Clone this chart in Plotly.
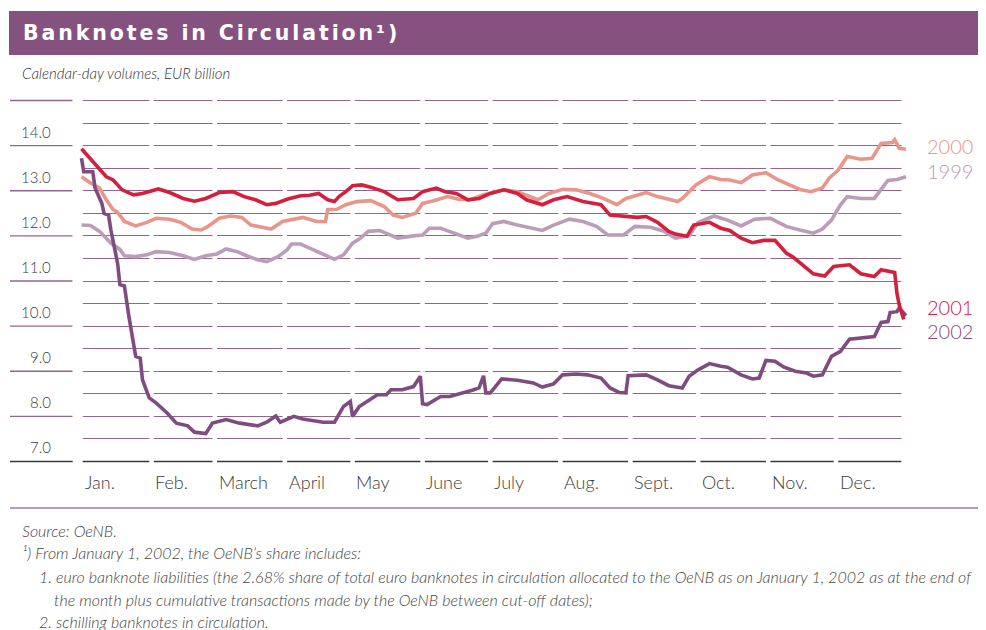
import plotly.graph_objects as go

# day-of-year readings (0 = 1 January), EUR billion
days_1999 = [0, 4, 8, 13, 17, 19, 24, 29, 33, 39, 45, 50, 55, 60, 64, 69, 73, 78, 82, 87, 91, 93, 97, 101, 107,
             112, 116, 120, 123, 127, 132, 140, 147, 151, 154, 159, 165, 171, 175, 179, 182, 187, 193, 199, 204,
             209, 216, 222, 228, 233, 240, 245, 252, 258, 263, 269, 273, 280, 286, 292, 298, 305, 312, 318, 324,
             328, 332, 336, 339, 345, 351, 357, 361, 365]
vals_1999 = [12.24, 12.23, 12.10, 11.84, 11.70, 11.56, 11.54, 11.58, 11.65, 11.63, 11.56, 11.48, 11.56, 11.60,
             11.71, 11.65, 11.56, 11.47, 11.43, 11.54, 11.69, 11.82, 11.82, 11.73, 11.58, 11.48, 11.58, 11.84,
             11.93, 12.10, 12.12, 11.95, 12.00, 12.02, 12.17, 12.17, 12.06, 11.95, 11.99, 12.06, 12.27, 12.32,
             12.24, 12.17, 12.12, 12.24, 12.37, 12.32, 12.21, 12.02, 12.02, 12.21, 12.19, 12.10, 11.95, 12.00,
             12.30, 12.44, 12.35, 12.22, 12.37, 12.39, 12.21, 12.13, 12.06, 12.15, 12.35, 12.69, 12.87, 12.83,
             12.83, 13.23, 13.25, 13.31]

days_2000 = [0, 4, 8, 11, 14, 16, 19, 24, 29, 33, 39, 44, 49, 53, 56, 61, 66, 71, 75, 81, 84, 89, 94, 98, 104,
             108, 109, 113, 117, 122, 128, 134, 138, 142, 148, 151, 156, 162, 167, 172, 178, 187, 193, 199, 202,
             207, 213, 219, 225, 231, 237, 241, 247, 250, 255, 260, 264, 266, 272, 278, 283, 287, 292, 297, 303,
             308, 314, 318, 323, 328, 331, 335, 339, 345, 350, 354, 359, 360, 362, 365]
vals_2000 = [13.31, 13.17, 13.06, 12.80, 12.58, 12.52, 12.32, 12.22, 12.30, 12.39, 12.37, 12.30, 12.15, 12.13,
             12.21, 12.39, 12.44, 12.41, 12.24, 12.17, 12.15, 12.32, 12.37, 12.41, 12.32, 12.32, 12.58, 12.59,
             12.69, 12.76, 12.78, 12.65, 12.46, 12.41, 12.50, 12.72, 12.78, 12.87, 12.81, 12.80, 12.91, 13.02,
             12.98, 12.87, 12.80, 12.94, 13.03, 13.02, 12.94, 12.83, 12.69, 12.83, 12.93, 12.96, 12.87, 12.80,
             12.76, 12.83, 13.13, 13.31, 13.25, 13.24, 13.18, 13.35, 13.40, 13.25, 13.11, 13.03, 12.98, 13.06,
             13.28, 13.46, 13.76, 13.70, 13.72, 14.05, 14.07, 14.13, 13.94, 13.92]

days_2001 = [0, 5, 11, 14, 18, 23, 27, 34, 39, 45, 50, 55, 61, 67, 72, 77, 82, 86, 91, 97, 101, 105, 109, 112,
             114, 117, 120, 124, 128, 134, 140, 147, 151, 157, 161, 166, 171, 176, 181, 187, 193, 197, 204, 209,
             215, 222, 230, 234, 240, 246, 250, 255, 260, 263, 268, 271, 278, 283, 287, 292, 297, 302, 307, 312,
             315, 320, 324, 329, 333, 340, 345, 351, 354, 360, 361, 362, 364]
vals_2001 = [13.93, 13.65, 13.31, 13.24, 13.02, 12.91, 12.94, 13.04, 12.96, 12.83, 12.77, 12.83, 12.96, 12.98,
             12.87, 12.80, 12.69, 12.72, 12.81, 12.89, 12.90, 12.94, 12.80, 12.76, 12.87, 12.98, 13.11, 13.13,
             13.08, 12.98, 12.80, 12.83, 12.98, 13.06, 12.98, 12.94, 12.80, 12.83, 12.94, 13.02, 12.94, 12.80,
             12.69, 12.80, 12.87, 12.76, 12.69, 12.46, 12.43, 12.41, 12.43, 12.30, 12.10, 12.04, 11.99, 12.24,
             12.30, 12.17, 12.12, 11.95, 11.85, 11.90, 11.90, 11.62, 11.53, 11.32, 11.16, 11.11, 11.32, 11.36,
             11.16, 11.10, 11.25, 11.19, 10.73, 10.47, 10.15]

days_2002 = [0, 1, 5, 6, 9, 10, 12, 13, 16, 17, 19, 21, 24, 26, 27, 30, 33, 38, 42, 47, 50, 55, 58, 64, 70, 78,
             82, 86, 88, 94, 98, 107, 112, 116, 119, 120, 123, 128, 131, 135, 137, 142, 147, 150, 151, 153, 159,
             163, 168, 173, 176, 178, 179, 181, 186, 193, 200, 204, 209, 213, 219, 224, 230, 234, 238, 241, 242,
             250, 255, 260, 266, 269, 273, 278, 283, 286, 292, 297, 300, 303, 307, 311, 316, 321, 324, 328, 332,
             336, 340, 345, 351, 354, 357, 358, 361, 362, 365]
vals_2002 = [13.72, 13.42, 13.42, 13.06, 12.72, 12.50, 12.46, 12.13, 11.39, 10.92, 10.89, 10.21, 9.33, 9.29,
             8.81, 8.41, 8.30, 8.07, 7.85, 7.79, 7.65, 7.62, 7.85, 7.93, 7.85, 7.79, 7.87, 8.01, 7.87, 8.00, 7.94,
             7.87, 7.87, 8.22, 8.33, 8.00, 8.22, 8.38, 8.48, 8.48, 8.59, 8.59, 8.66, 8.89, 8.28, 8.26, 8.44, 8.44,
             8.50, 8.58, 8.63, 8.90, 8.52, 8.52, 8.83, 8.80, 8.74, 8.65, 8.72, 8.92, 8.94, 8.92, 8.85, 8.63, 8.53,
             8.52, 8.90, 8.92, 8.81, 8.68, 8.63, 8.89, 9.03, 9.17, 9.11, 9.09, 8.92, 8.83, 8.85, 9.24, 9.22, 9.09,
             9.00, 8.96, 8.89, 8.92, 9.33, 9.44, 9.71, 9.73, 9.77, 10.08, 10.10, 10.30, 10.32, 10.40, 10.23]

months = ["Jan.", "Feb.", "March", "April", "May", "June", "July", "Aug.", "Sept.", "Oct.", "Nov.", "Dec."]
month_start = [0, 31, 59, 90, 120, 151, 181, 212, 243, 273, 304, 334]
y_labels = ["7.0", "8.0", "9.0", "10.0", "11.0", "12.0", "13.0", "14.0"]

series = [
    ("1999", days_1999, vals_1999, "#bb9cb9"),
    ("2000", days_2000, vals_2000, "#e9968a"),
    ("2002", days_2002, vals_2002, "#7f4c80"),
    ("2001", days_2001, vals_2001, "#d4203f"),
]

# the page body has an 8px margin, so the figure is 8px smaller than the window
OFF = 8
W, H = 986 - OFF, 630 - OFF
PLOT_L, PLOT_R, PLOT_T, PLOT_B = 10, 976, 96, 466   # plot area in window pixels
PW, PH = PLOT_R - PLOT_L, PLOT_B - PLOT_T
X0, X1 = -31.65, 396.0
GRID = "#93648f"
TXT = "#3c3c3c"


def px(x):
    return (x - PLOT_L) / PW


def py(y):
    return (PLOT_B - y) / PH


fig = go.Figure()
for name, d, v, c in series:
    fig.add_trace(go.Scatter(x=d, y=v, mode="lines", name=name,
                             line=dict(color=c, width=3.6), showlegend=False))

shapes = []
# blank out the label column, then redraw whole-number lines there
shapes.append(dict(type="rect", x0=X0 - 1, x1=0.5, y0=6.9, y1=15.1, xref="x", yref="y",
                   fillcolor="white", line_width=0, layer="between"))
for v in range(8, 16):
    shapes.append(dict(type="line", x0=X0, x1=-3.9, y0=v, y1=v, xref="x", yref="y",
                       line=dict(color=GRID, width=1.3), layer="between"))
shapes.append(dict(type="line", x0=X0, x1=363, y0=7, y1=7, xref="x", yref="y",
                   line=dict(color="#3a3a3a", width=1.4), layer="between"))
# gaps between month segments
gaps = [(-3.9, 0.5)] + [(m - 1, m + 1) for m in month_start[1:]] + [(363, X1 + 1)]
for a, b in gaps:
    shapes.append(dict(type="rect", x0=a, x1=b, y0=6.9, y1=15.1, xref="x", yref="y",
                       fillcolor="white", line_width=0, layer="between"))
# title band and bottom rule
shapes.append(dict(type="rect", xref="paper", yref="paper", x0=px(9), x1=px(990), y0=py(55), y1=py(11),
                   fillcolor="#85527f", line_width=0, layer="above"))
shapes.append(dict(type="line", xref="paper", yref="paper", x0=px(10), x1=px(990), y0=py(508), y1=py(508),
                   line=dict(color="#a47ba0", width=1.6)))

ann = []
ann.append(dict(text='<span style="letter-spacing:2.9px">Banknotes in Circulation¹)</span>',
                x=px(21), y=py(33), xref="paper", yref="paper", xanchor="left", yanchor="middle",
                showarrow=False, font=dict(family="DejaVu Sans", size=20.5, color="white", weight="bold")))
ann.append(dict(text="Calendar-day volumes, EUR billion", x=px(20), y=py(73), xref="paper", yref="paper",
                xanchor="left", yanchor="middle", showarrow=False,
                font=dict(family="Lato", size=15, color="#333333", style="italic", weight=300)))
for i, lab in enumerate(y_labels):
    ann.append(dict(text=lab, x=px(53), y=7 + i, xref="paper", yref="y", xanchor="right", yanchor="bottom",
                    yshift=3, showarrow=False, font=dict(family="Lato", size=15, color=TXT, weight=300)))
for m, s in zip(months, month_start):
    ann.append(dict(text=m, x=s + 0.8, y=py(482), xref="x", yref="paper", xanchor="left", yanchor="middle",
                    showarrow=False, font=dict(family="Lato", size=18, color=TXT, weight=300)))
legend_pos = {"2000": 146, "1999": 171, "2001": 307, "2002": 331}
for name, d, v, c in series:
    ann.append(dict(text=name, x=px(925), y=py(legend_pos[name]), xref="paper", yref="paper",
                    xanchor="left", yanchor="middle", showarrow=False,
                    font=dict(family="Lato", size=20, color=c, weight=300)))

notes = [
    (20, 530, "Source: OeNB."),
    (20, 552, "¹) From January 1, 2002, the OeNB’s share includes:"),
    (37, 576, "1. euro banknote liabilities (the 2.68% share of total euro banknotes in circulation allocated to "
              "the OeNB as on January 1, 2002 as at the end of"),
    (52, 599, "the month plus cumulative transactions made by the OeNB between cut-off dates);"),
    (37, 621, "2. schilling banknotes in circulation."),
]
for x, y, t in notes:
    ann.append(dict(text=t, x=px(x), y=py(y), xref="paper", yref="paper", xanchor="left", yanchor="middle",
                    showarrow=False, font=dict(family="Lato", size=16, color="#444444", style="italic",
                                               weight=300)))

fig.update_layout(
    width=W, height=H,
    margin=dict(l=PLOT_L - OFF, r=W - (PLOT_R - OFF), t=PLOT_T - OFF, b=H - (PLOT_B - OFF)),
    paper_bgcolor="white", plot_bgcolor="white",
    xaxis=dict(range=[X0, X1], showgrid=False, zeroline=False, showticklabels=False, ticks=""),
    yaxis=dict(range=[6.9, 15.1], tick0=7, dtick=0.5, showgrid=True, gridcolor=GRID, gridwidth=1.3,
               zeroline=False, showticklabels=False, ticks=""),
    shapes=shapes, annotations=ann,
)
fig.write_html("out.html")
